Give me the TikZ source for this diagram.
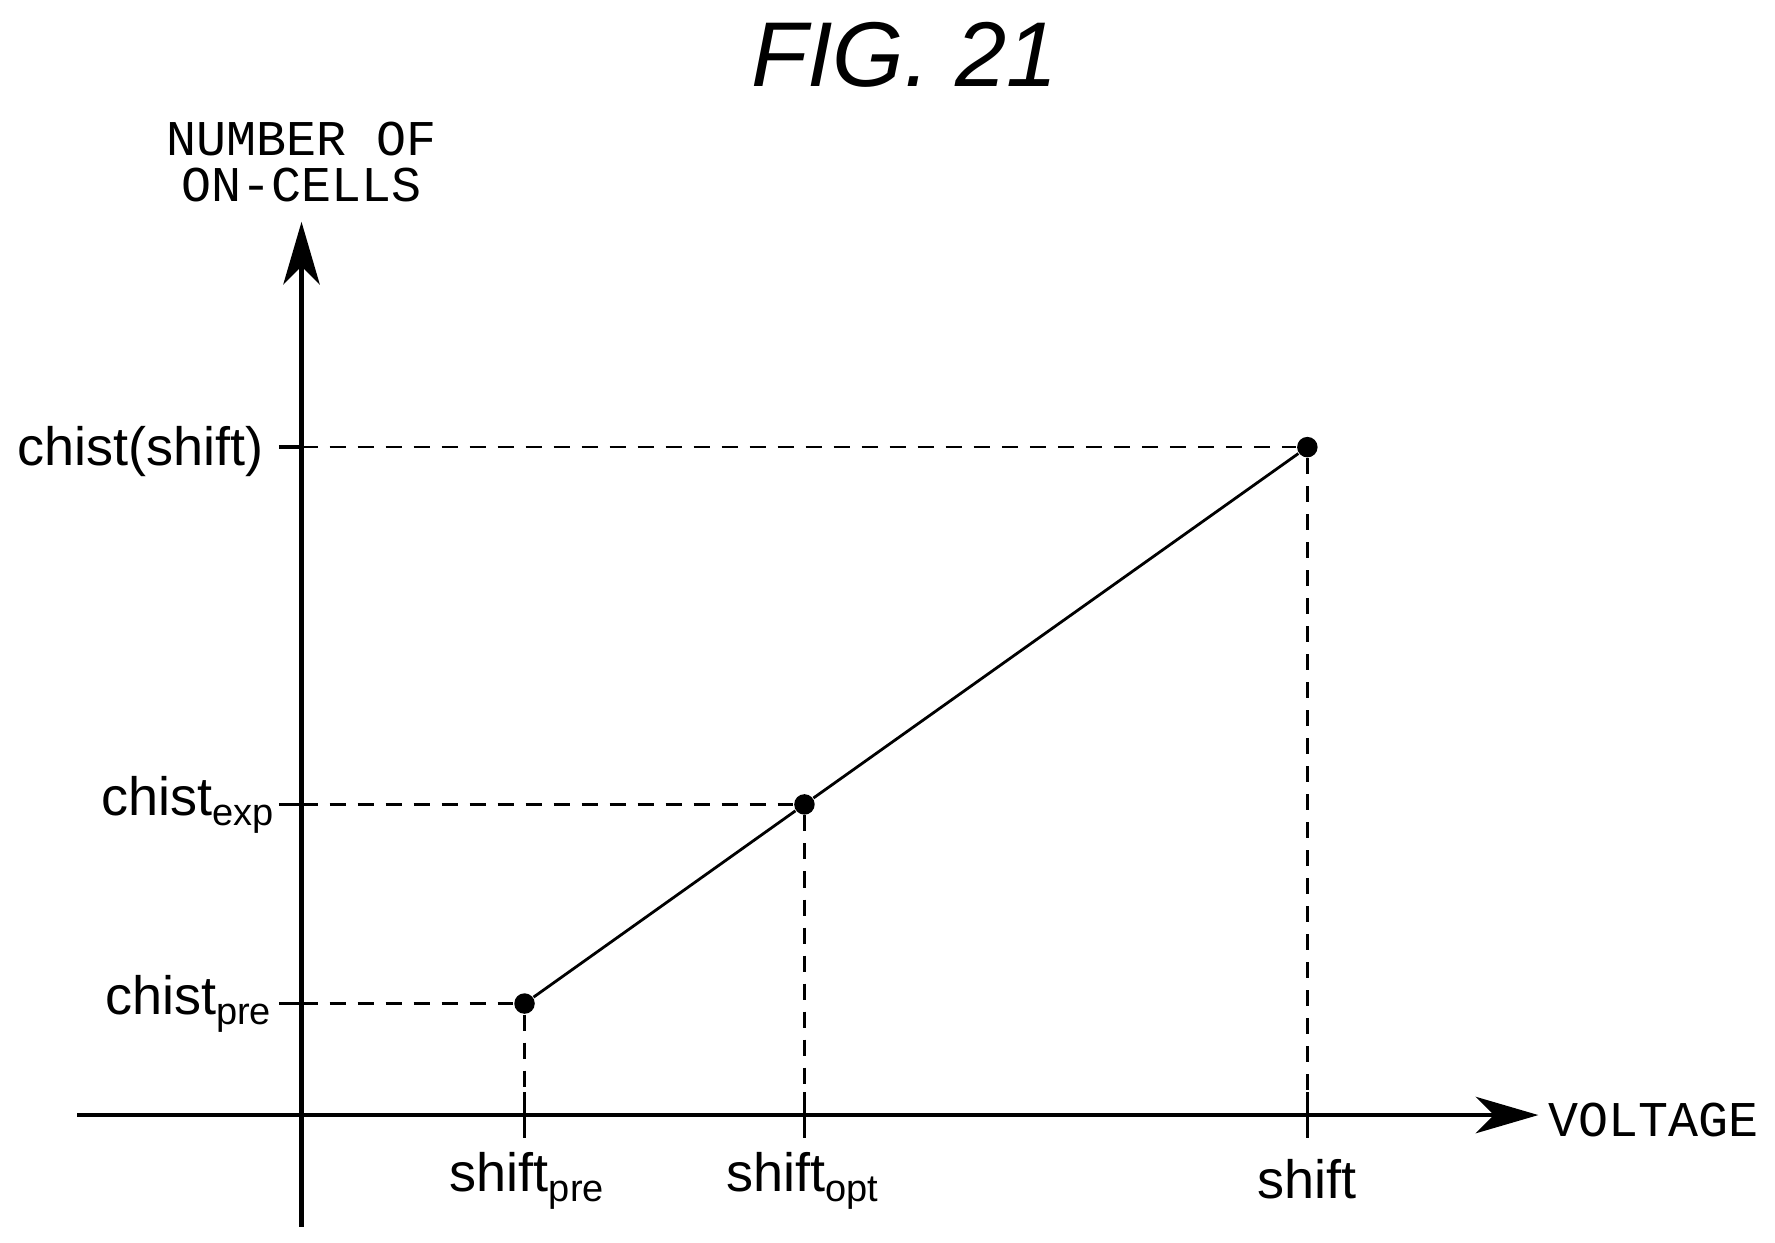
\documentclass[tikz,border=0pt]{standalone}
\usepackage{fontspec}
\setmainfont{Liberation Sans}
\newfontfamily\axisfont{Liberation Mono}
\usetikzlibrary{arrows.meta}

\begin{document}
\begin{tikzpicture}[x=0.01cm, y=-0.01cm,
    axis/.style={line width=1.1pt, -{Stealth[length=0.55cm, width=0.32cm, inset=0.16cm]}},
    guide/.style={dashed, line width=0.6pt, dash pattern=on 4pt off 3pt},
    tick/.style={line width=0.9pt},
    dot/.style={circle, fill, inner sep=0pt, minimum size=0.18cm},
    lbl/.style={font=\fontsize{13.5pt}{15pt}\selectfont, inner sep=0pt},
    axlbl/.style={font=\axisfont\fontsize{12.5pt}{11.5pt}\selectfont, inner sep=0pt}
]
\useasboundingbox (0,0) rectangle (1560,1092);
% title
\node[font=\itshape\fontsize{23pt}{26pt}\selectfont] (title) at (795,48) {FIG. 21};

% axes
\coordinate (origin) at (265,980);
\coordinate (ybot) at (265,1078);
\coordinate (ytop) at (265,195);
\coordinate (xleft) at (68,980);
\coordinate (xright) at (1352,980);
\draw[axis] (ybot) -- (ytop);
\draw[axis] (xleft) -- (xright);
\node[axlbl, align=center] (ylabel) at (265,142) {NUMBER OF\\ON-CELLS};
\node[axlbl, anchor=west] (xlabel) at (1360,984) {VOLTAGE};

% data points
\node[dot] (pre) at (461,882) {};
\node[dot] (opt) at (707,707) {};
\node[dot] (end) at (1149,393) {};
\draw[line width=0.7pt] (pre) -- (opt) -- (end);

% guides, ticks
\foreach \p in {pre,opt,end} {
  \coordinate (\p-y) at (origin |- \p);
  \coordinate (\p-x) at (origin -| \p);
  \draw[guide] (\p-y) -- (\p);
  \draw[guide] (\p) -- ([yshift=0.2cm]\p-x);
  \draw[tick] ([xshift=-0.2cm]\p-y) -- (\p-y);
  \draw[tick] ([yshift=0.2cm]\p-x) -- ([yshift=-0.2cm]\p-x);
}
% labels
\node[lbl, anchor=east] (chistpre) at (239,882) {chist\raisebox{-0.35ex}{\fontsize{9.5pt}{10pt}\selectfont pre}};
\node[lbl, anchor=east] (chistexp) at (241,707) {chist\raisebox{-0.35ex}{\fontsize{9.5pt}{10pt}\selectfont exp}};
\node[lbl, anchor=east] (chistend) at (232,397) {chist(shift)};
\node[lbl] (shiftpre) at (463,1038) {shift\raisebox{-0.35ex}{\fontsize{9.5pt}{10pt}\selectfont pre}};
\node[lbl] (shiftopt) at (705,1038) {shift\raisebox{-0.35ex}{\fontsize{9.5pt}{10pt}\selectfont opt}};
\node[lbl] (shiftend) at (1149,1036) {shift};
\end{tikzpicture}
\end{document}
